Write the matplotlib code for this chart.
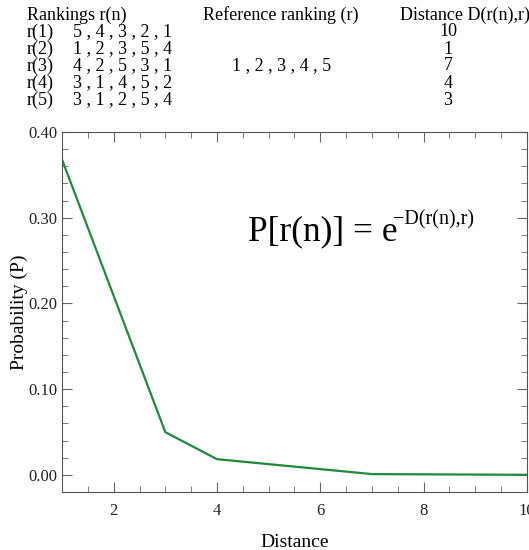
import matplotlib
matplotlib.use("Agg")
import matplotlib.pyplot as plt
from matplotlib.ticker import MultipleLocator, FormatStrFormatter

# ranking table
ranking_names = ['r(1)', 'r(2)', 'r(3)', 'r(4)', 'r(5)']
rankings = ['5 , 4 , 3 , 2 , 1', '1 , 2 , 3 , 5 , 4', '4 , 2 , 5 , 3 , 1',
            '3 , 1 , 4 , 5 , 2', '3 , 1 , 2 , 5 , 4']
reference = '1 , 2 , 3 , 4 , 5'
table_dist = ['10', '1', '7', '4', '3']

# curve
distance = [1, 3, 4, 7, 10]
probability = [0.368, 0.0498, 0.0183, 0.0009, 0.00005]

plt.rcParams['font.family'] = ['Liberation Serif', 'DejaVu Serif']

W, H = 529, 550
fig = plt.figure(figsize=(W / 100, H / 100), dpi=100)

def px(x, y):
    return x / W, 1 - y / H

fs = 13
fig.text(*px(27, 15), 'Rankings r(n)', fontsize=fs, va='center')
fig.text(*px(203, 15), 'Reference ranking (r)', fontsize=fs, va='center')
fig.text(*px(400, 15), 'Distance D(r(n),r)', fontsize=fs, va='center')
row_y = [32, 49, 66, 83, 100]
for i in range(len(ranking_names)):
    fig.text(*px(27, row_y[i]), ranking_names[i], fontsize=fs, va='center')
    fig.text(*px(73, row_y[i]), rankings[i], fontsize=fs, va='center')
    fig.text(*px(448, row_y[i]), table_dist[i], fontsize=fs, va='center', ha='center')
fig.text(*px(232, row_y[2]), reference, fontsize=fs, va='center')

ax = fig.add_axes([62 / W, 1 - 492 / H, (527 - 62) / W, (492 - 132) / H])
ax.plot(distance, probability, color='#1e8a3a', lw=1.6)
ax.set_xlim(1, 10)
ax.set_ylim(-0.02, 0.40)
ax.xaxis.set_major_locator(MultipleLocator(2))
ax.xaxis.set_minor_locator(MultipleLocator(0.5))
ax.yaxis.set_major_locator(MultipleLocator(0.1))
ax.yaxis.set_minor_locator(MultipleLocator(0.02))
ax.yaxis.set_major_formatter(FormatStrFormatter('%.2f'))
ax.tick_params(which='both', direction='in', top=True, right=True, labelsize=12,
               color='#666666', labelcolor='#222222')
ax.tick_params(which='major', length=7)
ax.tick_params(which='minor', length=4)
ax.tick_params(axis='x', pad=8)
for s in ax.spines.values():
    s.set_color('#555555')
ax.set_xlabel('Distance', fontsize=14, labelpad=11)
ax.set_ylabel('Probability (P)', fontsize=14, labelpad=0)

# formula with a small superscript
t = fig.text(*px(248, 232), 'P[r(n)] = e', fontsize=25.5, va='center')
ax.annotate('\u2212D(r(n),r)', xy=(1.0, 1.0), xycoords=t, xytext=(-3, 4),
            textcoords='offset points', fontsize=14.5, va='top', ha='left')

fig.savefig('out.png', dpi=100)
